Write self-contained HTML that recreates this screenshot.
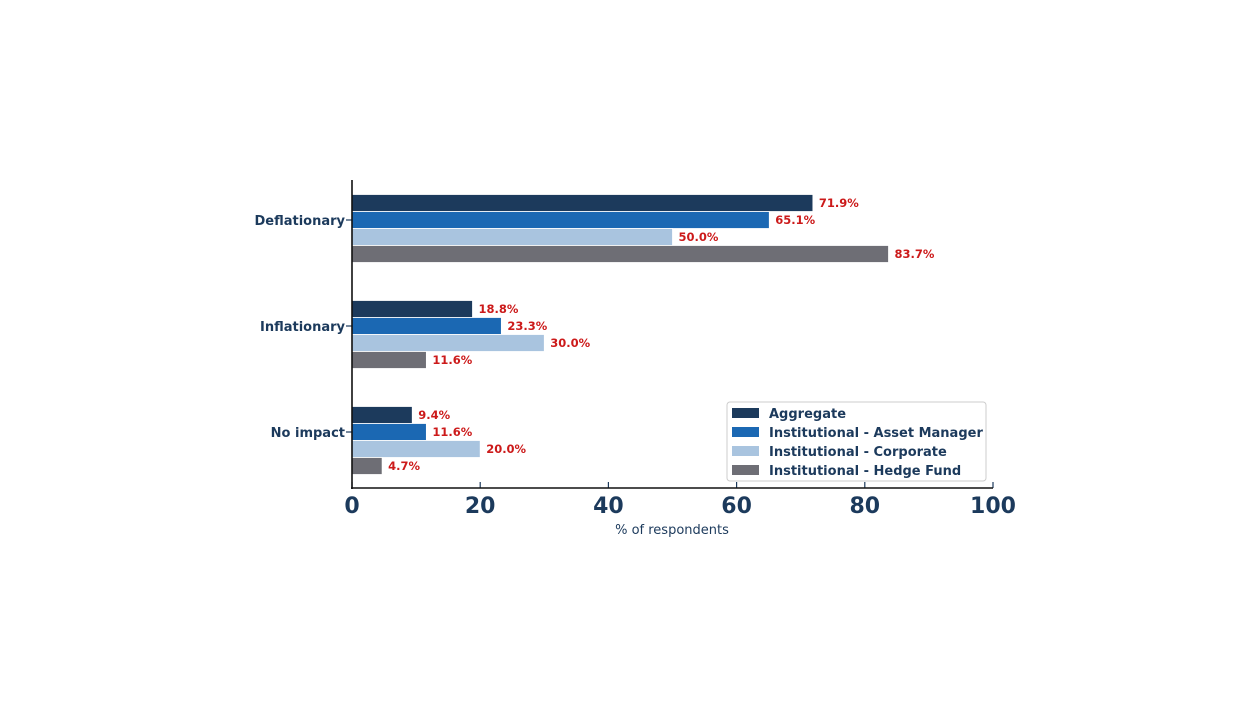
<!DOCTYPE html>
<html><head><meta charset="utf-8"><style>
body{margin:0;background:#fff;}
svg{font-family:"DejaVu Sans","Liberation Sans",sans-serif;}
</style></head><body>
<svg width="1252" height="715" xmlns="http://www.w3.org/2000/svg">
<g id="chart"></g>
</svg>
<script>
const categories=["Deflationary","Inflationary","No impact"];
const seriesNames=["Aggregate","Institutional - Asset Manager","Institutional - Corporate","Institutional - Hedge Fund"];
const aggregate=[71.9,18.8,9.4];
const assetManager=[65.1,23.3,11.6];
const corporate=[50.0,30.0,20.0];
const hedgeFund=[83.7,11.6,4.7];
const xTicks=[0,20,40,60,80,100];
const colors=["#1c3a5c","#1b68b3","#a9c4df","#6e6e75"];
const series=[aggregate,assetManager,corporate,hedgeFund];
const NS="http://www.w3.org/2000/svg";
const g=document.getElementById('chart');
const x=v=>352+v*6.41;
const yCat=i=>220+i*106;
const bh=17;
function el(t,a,txt){const e=document.createElementNS(NS,t);for(const k in a)e.setAttribute(k,a[k]);if(txt!==undefined)e.textContent=txt;g.appendChild(e);return e;}
series.forEach((s,si)=>{
 s.forEach((v,ci)=>{
  const yc=yCat(ci)+(si-1)*bh;
  const r=el('rect',{x:x(0),y:yc-bh/2,width:x(v)-x(0),height:bh,fill:colors[si],stroke:'#fff','stroke-width':0.8});
  
  
  const t=el('text',{x:x(v)+6,y:yc+4,fill:'#cc1a1a','font-size':11.5,'font-weight':'bold'},v.toFixed(1)+'%');
  
  
 });
});
categories.forEach((c,i)=>{
 el('line',{x1:346,x2:352,y1:yCat(i),y2:yCat(i),stroke:'#1c3a5c','stroke-width':1.2});
 const t=el('text',{x:345,y:yCat(i)+5,'text-anchor':'end',fill:'#1c3a5c','font-size':13,'font-weight':'bold'},c);
 
 
});
xTicks.forEach(v=>{
 el('line',{x1:x(v),x2:x(v),y1:482,y2:488,stroke:'#1c3a5c','stroke-width':1.2});
 const t=el('text',{x:x(v),y:513,'text-anchor':'middle',fill:'#1c3a5c','font-size':22,'font-weight':'bold'},String(v));
 
 
});
el('line',{x1:352,x2:352,y1:180,y2:489,stroke:'#111','stroke-width':1.6});
el('line',{x1:351,x2:993,y1:488,y2:488,stroke:'#111','stroke-width':1.6});
const xt=el('text',{x:672,y:534,'text-anchor':'middle',fill:'#1c3a5c','font-size':13},'% of respondents');


const lg=el('rect',{x:727,y:402,width:259,height:79,fill:'#fff',stroke:'#ccc',rx:3});


seriesNames.forEach((n,i)=>{
 const yy=413+i*19;
 el('rect',{x:732,y:yy-5,width:27,height:10,fill:colors[i]});
 const t=el('text',{x:769,y:yy+5,fill:'#1c3a5c','font-size':13,'font-weight':'bold'},n);
 
 
});
</script>
</body></html>
